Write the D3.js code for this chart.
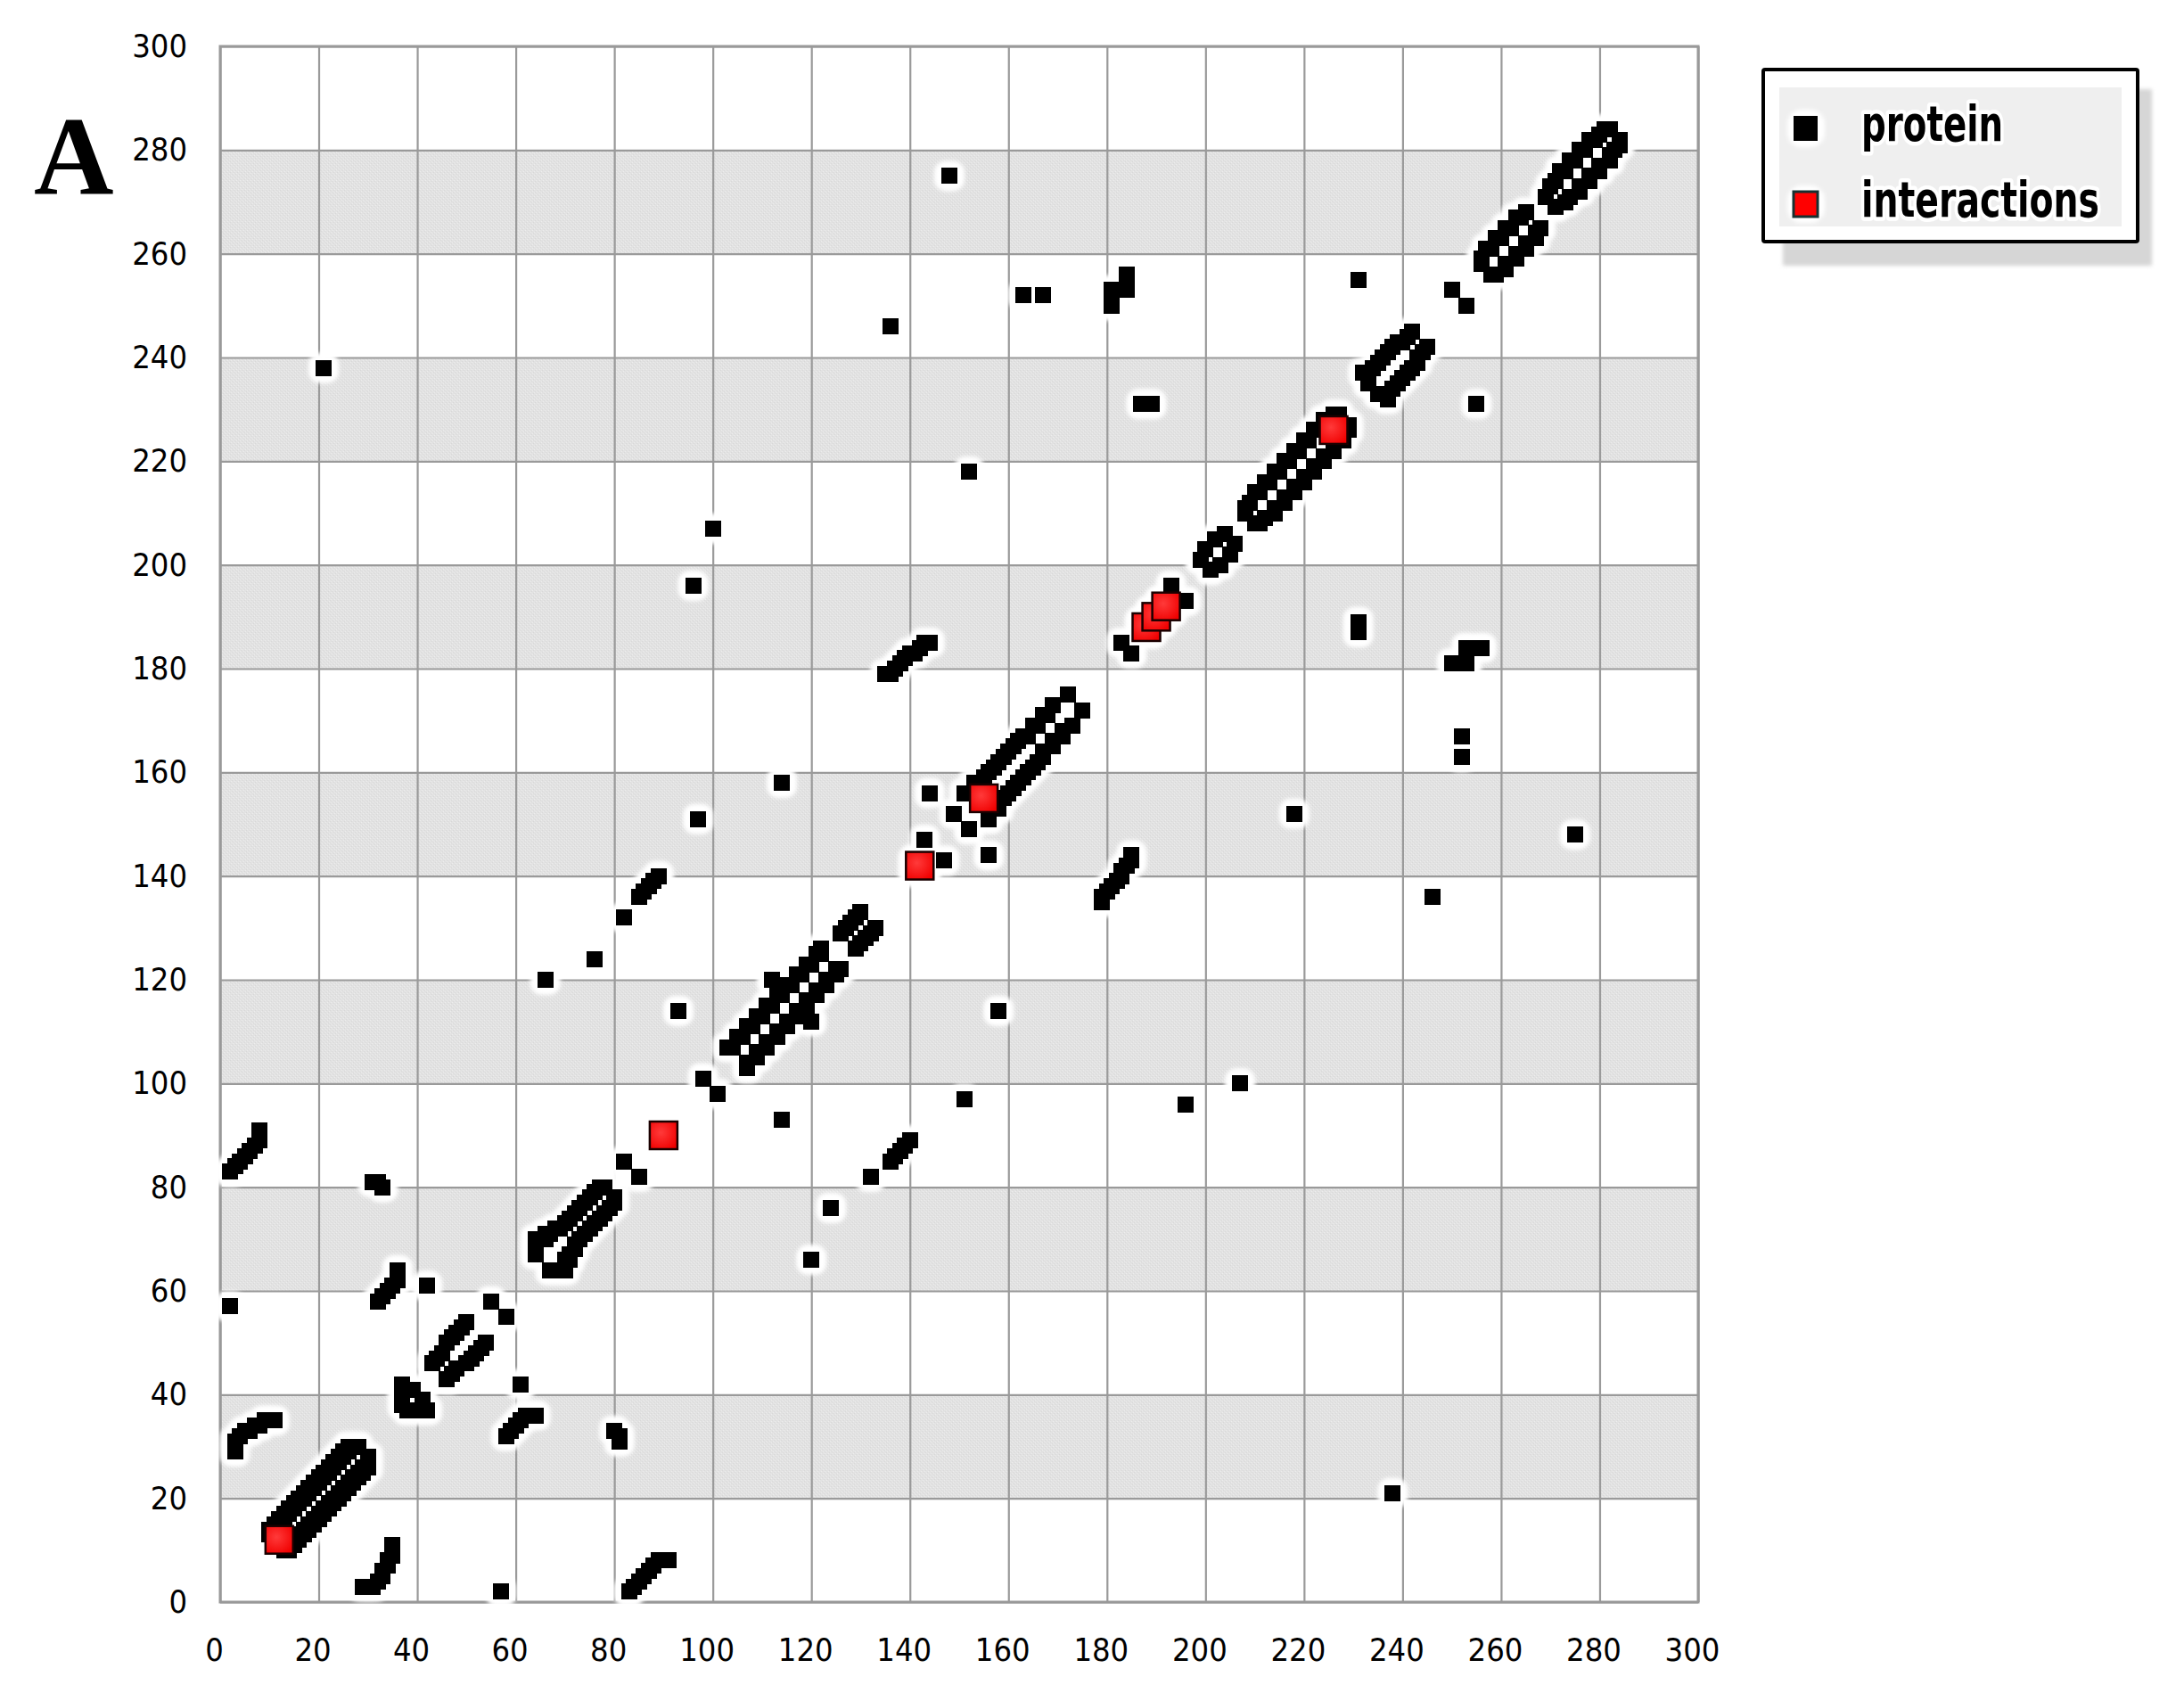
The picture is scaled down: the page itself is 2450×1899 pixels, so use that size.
<!DOCTYPE html>
<html>
<head>
<meta charset="UTF-8">
<title>Contact map A</title>
<script src="https://d3js.org/d3.v7.min.js"></script>
<style>
  body { margin: 0; padding: 0; background: #fff; }
  .tick text {
    font-family: 'DejaVu Sans Condensed', 'DejaVu Sans', sans-serif;
    font-stretch: condensed;
    font-size: 36px;
    fill: #000;
  }
</style>
</head>
<body>
<script>
// tick labels on both axes
const ticks = [0, 20, 40, 60, 80, 100, 120, 140, 160, 180, 200, 220, 240, 260, 280, 300];
// lower edges of the shaded horizontal bands (each 20 wide)
const bandStarts = [20, 60, 100, 140, 180, 220, 260];

// residue contacts [i, j]; the map is symmetric so each is drawn at (i,j) and (j,i)
const contacts = [
  // helix 10-30
  [10,13],[10,14],[11,14],[11,15],[12,15],[12,16],[13,16],[13,17],[14,17],[14,18],[15,18],[15,19],
  [16,19],[16,20],[17,20],[17,21],[18,21],[18,22],[19,22],[19,23],[20,23],[20,24],[21,24],[21,25],
  [22,25],[22,26],[23,26],[23,27],[24,27],[24,28],[25,28],[25,29],[26,29],[26,30],[27,30],[28,30],
  // strand pairing 3-11 / 29-35
  [3,29],[3,30],[3,31],[4,32],[5,33],[6,33],[7,34],[8,34],[9,35],[10,35],[11,35],
  // hook 36-43
  [37,38],[37,40],[37,42],[39,41],
  // helix 43-54
  [43,46],[44,47],[45,48],[46,50],[47,51],[48,52],[49,53],[50,54],
  [55,58],[42,61],[2,57],
  [32,58],[33,59],[34,60],[35,61],[36,62],[36,63],[36,64],
  [31,81],[32,81],[33,80],
  // helix 64-80
  [64,67],[64,68],[64,69],[64,70],[65,70],[66,70],[66,71],[67,71],[68,72],[69,72],[70,73],
  [71,74],[72,75],[73,76],[74,77],[75,78],[76,79],[77,80],[78,80],
  [82,85],
  [2,83],[3,84],[4,85],[5,86],[6,87],[7,88],[8,89],[8,90],[8,91],
  [98,101],
  // helix 103-126
  [103,107],[104,107],[105,109],[106,109],[107,111],[108,111],[109,113],[110,113],[111,115],[112,115],
  [113,117],[114,117],[115,119],[116,119],[117,121],[118,121],[119,123],[120,123],[121,125],[122,125],
  [122,126],[112,120],
  [126,129],[127,130],[128,131],[129,132],[130,133],
  [93,114],[66,120],[76,124],[82,132],
  [85,136],[86,137],[87,138],[88,139],[89,140],
  [143,147],[149,152],[144,156],[97,151],[114,158],
  // helix 151-173
  [151,156],[152,156],[153,158],[154,158],[155,159],[156,160],[157,161],[158,162],[159,163],[160,164],
  [161,165],[162,166],[163,167],[164,167],[165,169],[166,169],[167,171],[168,171],[169,173],
  [172,175],
  [135,179],[136,179],[137,180],[138,181],[139,182],[140,183],[141,183],[142,184],[143,185],[144,185],
  [183,185],[193,196],
  [100,207],[96,196],
  // small ring 199-206
  [199,201],[200,203],[202,205],[204,206],
  // helix 208-229
  [208,210],[208,211],[209,212],[210,214],[211,214],[212,216],[213,216],[214,218],[215,218],[216,220],
  [217,220],[218,222],[219,222],[220,224],[221,224],[222,226],[223,226],[224,228],[225,228],[226,229],
  [227,229],
  [152,218],[187,231],[189,231],
  // helix 232-245
  [232,237],[233,235],[233,237],[234,238],[235,239],[236,240],[237,241],[238,242],[239,243],[240,243],
  [241,244],[242,245],
  [136,246],[250,253],
  [181,250],[181,253],[184,253],[184,256],
  [163,252],[167,252],[231,255],
  // helix 256-268
  [256,258],[256,259],[257,261],[258,261],[259,263],[260,263],[261,265],[262,265],[263,267],[264,267],[265,268],
  // helix 269-284
  [269,271],[270,273],[271,274],[272,276],[273,276],[274,278],[275,278],[276,280],[277,280],[278,282],
  [279,282],[280,283],[281,284],[282,284],
  [148,275],[21,238]
];

// interaction sites (red), on the diagonal
const interactions = [12, 90, 142, 155, 188, 190, 192, 226];

const legendLabels = ["protein", "interactions"];
const legendColors = ["#000", "#ff0000"];

const W = 2450, H = 1899;
const margin = { left: 247, top: 52, right: 545, bottom: 102 };
const plotW = W - margin.left - margin.right;   // 1658
const plotH = H - margin.top - margin.bottom;   // 1745

const svg = d3.select("body").append("svg")
  .attr("width", W).attr("height", H);

const defs = svg.append("defs");
const pat = defs.append("pattern")
  .attr("id", "dither").attr("patternUnits", "userSpaceOnUse")
  .attr("width", 4).attr("height", 4);
pat.append("rect").attr("width", 4).attr("height", 4).attr("fill", "#e2e2e2");
[[0,0],[2,2]].forEach(d => pat.append("rect").attr("x", d[0]).attr("y", d[1]).attr("width", 1).attr("height", 1).attr("fill", "#ededed"));
[[1,3],[3,1]].forEach(d => pat.append("rect").attr("x", d[0]).attr("y", d[1]).attr("width", 1).attr("height", 1).attr("fill", "#d8d8d8"));

defs.append("filter").attr("id", "soft").attr("x", "-20%").attr("y", "-20%").attr("width", "140%").attr("height", "140%")
  .append("feGaussianBlur").attr("stdDeviation", 2);

const redGrad = defs.append("radialGradient").attr("id", "redfill")
  .attr("cx", "40%").attr("cy", "40%").attr("r", "70%");
redGrad.append("stop").attr("offset", "0%").attr("stop-color", "#ff3a3a");
redGrad.append("stop").attr("offset", "100%").attr("stop-color", "#f00000");

const x = d3.scaleLinear().domain([0, 300]).range([0, plotW]);
const y = d3.scaleLinear().domain([0, 300]).range([plotH, 0]);

const g = svg.append("g").attr("transform", `translate(${margin.left},${margin.top})`);

// shaded bands
g.selectAll(".band").data(bandStarts).enter().append("rect")
  .attr("class", "band")
  .attr("x", 0).attr("width", plotW)
  .attr("y", d => y(d + 20)).attr("height", d => y(d) - y(d + 20))
  .attr("fill", "url(#dither)");

// grid + tick labels through d3 axes
const yAxis = g.append("g")
  .call(d3.axisLeft(y).tickValues(ticks).tickSizeInner(-plotW).tickSizeOuter(0).tickPadding(37));
const xAxis = g.append("g").attr("transform", `translate(0,${plotH})`)
  .call(d3.axisBottom(x).tickValues(ticks).tickSizeInner(-plotH).tickSizeOuter(0).tickPadding(40));
[xAxis, yAxis].forEach(a => {
  a.select(".domain").remove();
  a.selectAll(".tick line").attr("stroke", "#9a9a9a").attr("stroke-width", 2.2);
});
xAxis.selectAll(".tick text").attr("dx", -7);

g.append("rect").attr("x", 0).attr("y", 0).attr("width", plotW).attr("height", plotH)
  .attr("fill", "none").attr("stroke", "#999").attr("stroke-width", 3);

// marks
const points = contacts.flatMap(([i, j]) => [[i, j], [j, i]]);
const bs = 18, rs = 33;

const halo = g.append("g").attr("filter", "url(#soft)");
halo.selectAll(".hb").data(points).enter().append("rect")
  .attr("x", d => x(d[0]) - bs / 2 - 8).attr("y", d => y(d[1]) - bs / 2 - 8)
  .attr("width", bs + 16).attr("height", bs + 16).attr("rx", 13)
  .attr("fill", "#fff");
halo.selectAll(".hr").data(interactions).enter().append("rect")
  .attr("x", d => x(d) - rs / 2 - 8).attr("y", d => y(d) - rs / 2 - 8)
  .attr("width", rs + 16).attr("height", rs + 16).attr("rx", 16)
  .attr("fill", "#fff");

g.append("g").selectAll("rect").data(points).enter().append("rect")
  .attr("x", d => x(d[0]) - bs / 2).attr("y", d => y(d[1]) - bs / 2)
  .attr("width", bs).attr("height", bs)
  .attr("fill", "#000").attr("shape-rendering", "crispEdges");

g.append("g").selectAll("rect").data(interactions).enter().append("rect")
  .attr("x", d => x(d) - rs / 2 + 1).attr("y", d => y(d) - rs / 2 + 1)
  .attr("width", rs - 2).attr("height", rs - 2)
  .attr("fill", "url(#redfill)").attr("stroke", "#1a0000").attr("stroke-width", 2.5);

// panel letter
svg.append("text").attr("x", 38).attr("y", 217)
  .attr("font-family", "'Liberation Serif', 'DejaVu Serif', serif")
  .attr("font-weight", "bold").attr("font-size", 124)
  .text("A");

// legend
const lg = svg.append("g");
lg.append("rect").attr("x", 2000).attr("y", 100).attr("width", 414).attr("height", 198)
  .attr("fill", "#d6d6d6").attr("filter", "url(#soft)");
lg.append("rect").attr("x", 1978).attr("y", 78).attr("width", 420).attr("height", 193)
  .attr("fill", "#fff").attr("stroke", "#000").attr("stroke-width", 4).attr("rx", 2);
lg.append("rect").attr("x", 1996).attr("y", 98).attr("width", 384).attr("height", 156)
  .attr("fill", "#efefef");

const items = lg.selectAll(".item").data(legendLabels).enter().append("g")
  .attr("transform", (d, i) => `translate(0,${i * 85})`);
items.append("rect").attr("x", 2005).attr("y", 123).attr("width", 42).attr("height", 42).attr("rx", 16)
  .attr("fill", "#fff").attr("filter", "url(#soft)");
items.append("rect").attr("x", 2012).attr("y", 130).attr("width", 27).attr("height", 28)
  .attr("fill", (d, i) => legendColors[i])
  .attr("stroke", (d, i) => i ? "#163030" : "none").attr("stroke-width", 3);
items.append("text").attr("x", 2088).attr("y", 158)
  .attr("font-family", "'DejaVu Sans Condensed', 'DejaVu Sans', sans-serif")
  .attr("font-stretch", "condensed")
  .attr("font-weight", "bold").attr("font-size", 55)
  .attr("textLength", (d, i) => i ? 267 : 159).attr("lengthAdjust", "spacingAndGlyphs")
  .attr("stroke", "#fff").attr("stroke-width", 9).attr("stroke-linejoin", "round")
  .attr("paint-order", "stroke")
  .text(d => d);
</script>
</body>
</html>
